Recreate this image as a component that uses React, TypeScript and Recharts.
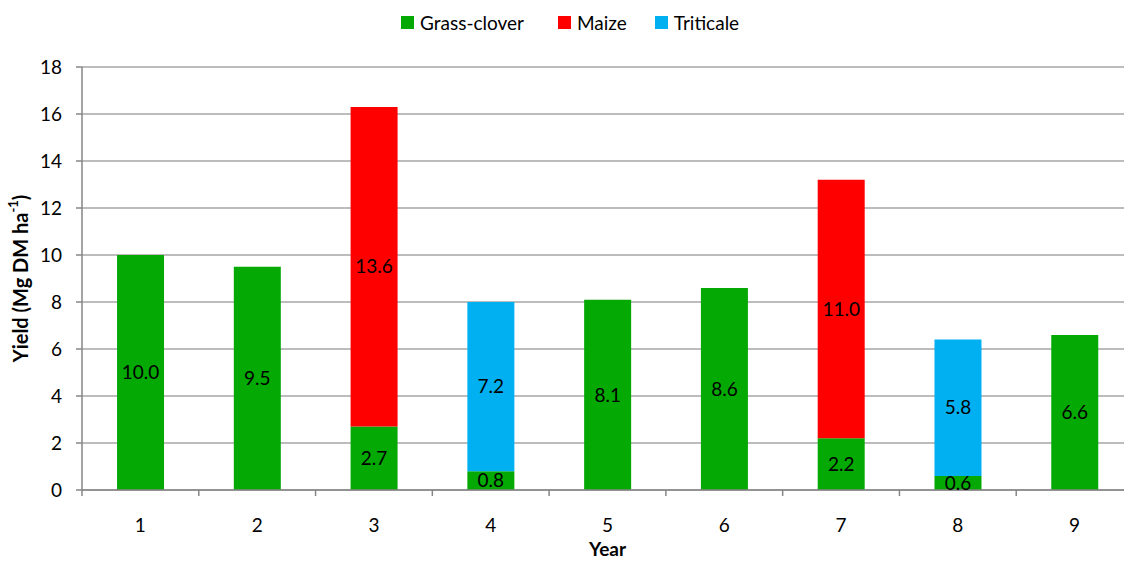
import React from "react";
import { BarChart, Bar, XAxis, YAxis, CartesianGrid, LabelList, Label } from "recharts";

const years = ["1", "2", "3", "4", "5", "6", "7", "8", "9"];
const grassClover = [10.0, 9.5, 2.7, 0.8, 8.1, 8.6, 2.2, 0.6, 6.6];
const maize = [null, null, 13.6, null, null, null, 11.0, null, null];
const triticale = [null, null, null, 7.2, null, null, null, 5.8, null];
const yTicks = [0, 2, 4, 6, 8, 10, 12, 14, 16, 18];

const series = [
  { key: "grass", name: "Grass-clover", color: "#04A904" },
  { key: "maize", name: "Maize", color: "#FF0000" },
  { key: "triticale", name: "Triticale", color: "#00B0F0" },
];

const data = years.map((year, i) => ({
  year,
  grass: grassClover[i],
  maize: maize[i],
  triticale: triticale[i],
}));

const FONT = "Lato, 'Open Sans', sans-serif";
const AXIS = "#868686";
const GRID = "#A6A6A6";
const FS = 19;

const fmt = (v: any) => (v == null || v === 0 ? "" : Number(v).toFixed(1));

function XTick(props: any) {
  const { x, y, payload, index, visibleTicksCount } = props;
  const half = payload?.offset ?? 58.4;
  const last = index === (visibleTicksCount ?? years.length) - 1;
  return (
    <g>
      <line x1={x - half} x2={x - half} y1={y} y2={y + 6} stroke={AXIS} strokeWidth={1.5} />
      {last && <line x1={x + half} x2={x + half} y1={y} y2={y + 6} stroke={AXIS} strokeWidth={1.5} />}
      <text x={x} y={y + 34} textAnchor="middle" dominantBaseline="central" fontSize={FS} fill="#000" fontFamily={FONT}>
        {payload.value}
      </text>
    </g>
  );
}

function YLabel(props: any) {
  const { viewBox } = props;
  const cy = viewBox.y + viewBox.height / 2;
  const cx = 20;
  return (
    <text
      x={cx}
      y={cy}
      transform={`rotate(-90, ${cx}, ${cy})`}
      textAnchor="middle"
      dominantBaseline="central"
      fontSize={20}
      fontWeight="bold"
      fontFamily={FONT}
      fill="#000"
    >
      Yield (Mg DM ha
      <tspan fontSize={13} dy={-7}>-1</tspan>
      <tspan dy={7}>)</tspan>
    </text>
  );
}

export default function App() {
  return (
    <div
      style={{
        position: "absolute",
        left: 0,
        top: 0,
        width: 1124,
        height: 561,
        overflow: "hidden",
        background: "#fff",
        fontFamily: FONT,
      }}
    >
      <div
        style={{
          position: "absolute",
          left: 401,
          top: 11,
          display: "flex",
          alignItems: "center",
          fontSize: FS,
          lineHeight: "23px",
          color: "#000",
          whiteSpace: "nowrap",
        }}
      >
        {series.map((s, i) => (
          <div key={s.key} style={{ display: "flex", alignItems: "center", marginRight: i === 0 ? 34 : 28 }}>
            <span style={{ width: 13, height: 13, background: s.color, display: "inline-block", marginRight: 6 }} />
            <span>{s.name}</span>
          </div>
        ))}
      </div>
      <BarChart
        width={1150}
        height={561}
        data={data}
        margin={{ top: 67, right: 17, bottom: 0, left: 0 }}
        barCategoryGap="30%"
      >
        <CartesianGrid vertical={false} stroke={GRID} strokeWidth={1.5} />
        <XAxis
          dataKey="year"
          height={71}
          axisLine={{ stroke: AXIS, strokeWidth: 1.5 }}
          tickLine={false}
          tickSize={0}
          tickMargin={0}
          interval={0}
          tick={<XTick />}
        >
          <Label
            value="Year"
            position="insideBottom"
            offset={0}
            content={(p: any) => (
              <text
                x={p.viewBox.x + p.viewBox.width / 2}
                y={548}
                textAnchor="middle"
                dominantBaseline="central"
                fontSize={19}
                fontWeight="bold"
                fontFamily={FONT}
                fill="#000"
              >
                Year
              </text>
            )}
          />
        </XAxis>
        <YAxis
          width={82}
          domain={[0, 18]}
          ticks={yTicks}
          interval={0}
          axisLine={{ stroke: AXIS, strokeWidth: 1.5 }}
          tickLine={{ stroke: AXIS, strokeWidth: 1.5 }}
          tickSize={6}
          tickMargin={14}
          tick={{ fill: "#000", fontSize: FS, fontFamily: FONT }}
        >
          <Label content={<YLabel />} />
        </YAxis>
        {series.map((s) => (
          <Bar key={s.key} dataKey={s.key} name={s.name} stackId="a" fill={s.color} isAnimationActive={false}>
            <LabelList
              dataKey={s.key}
              position="center"
              formatter={fmt}
              fill="#000"
              fontSize={FS}
              fontFamily={FONT}
            />
          </Bar>
        ))}
      </BarChart>
    </div>
  );
}
